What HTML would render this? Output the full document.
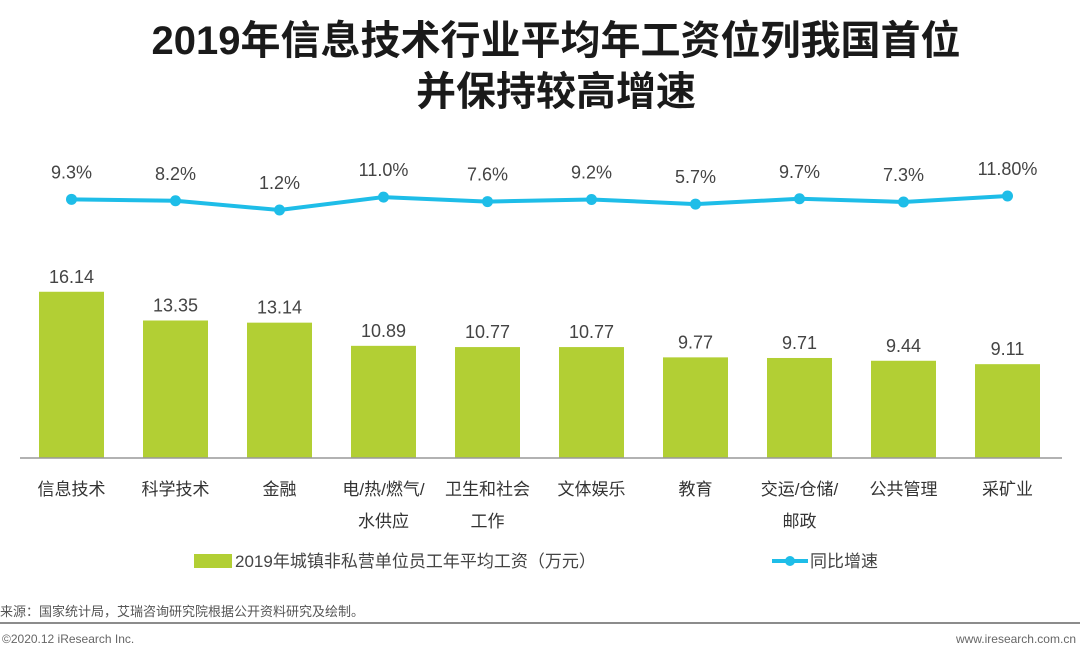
<!DOCTYPE html>
<html><head><meta charset="utf-8"><style>
body{margin:0;background:#fff;}
svg text{font-family:"Liberation Sans","Noto Sans CJK SC",sans-serif;}
</style></head><body>
<svg width="1080" height="658" viewBox="0 0 1080 658">
<text x="556" y="54" text-anchor="middle" font-size="40" font-weight="bold" fill="#1a1a1a">2019年信息技术行业平均年工资位列我国首位</text>
<text x="556" y="105" text-anchor="middle" font-size="40" font-weight="bold" fill="#1a1a1a">并保持较高增速</text>
<g id="bars"></g><g id="line"></g><g id="labels"></g>
<line x1="20" y1="458" x2="1062" y2="458" stroke="#999" stroke-width="1.5"/>
<rect x="194" y="554" width="38" height="14" fill="#b2cf34"/>
<text x="235" y="567" font-size="17" fill="#444">2019年城镇非私营单位员工年平均工资（万元）</text>
<line x1="772" y1="561" x2="808" y2="561" stroke="#1ebde8" stroke-width="4"/>
<circle cx="790" cy="561" r="5" fill="#1ebde8"/>
<text x="810" y="567" font-size="17" fill="#444">同比增速</text>
<text x="0" y="616" font-size="13" fill="#555">来源：国家统计局，艾瑞咨询研究院根据公开资料研究及绘制。</text>
<line x1="0" y1="623" x2="1080" y2="623" stroke="#666" stroke-width="1.5"/>
<text x="2" y="643" font-size="12" fill="#666">©2020.12 iResearch Inc.</text>
<text x="1076" y="643" text-anchor="end" font-size="12" fill="#666">www.iresearch.com.cn</text>
</svg>
<script>
const categories=[["信息技术"],["科学技术"],["金融"],["电/热/燃气/","水供应"],["卫生和社会","工作"],["文体娱乐"],["教育"],["交运/仓储/","邮政"],["公共管理"],["采矿业"]];
const wages=[16.14,13.35,13.14,10.89,10.77,10.77,9.77,9.71,9.44,9.11];
const wageLabels=["16.14","13.35","13.14","10.89","10.77","10.77","9.77","9.71","9.44","9.11"];
const growth=[9.3,8.2,1.2,11.0,7.6,9.2,5.7,9.7,7.3,11.8];
const growthLabels=["9.3%","8.2%","1.2%","11.0%","7.6%","9.2%","5.7%","9.7%","7.3%","11.80%"];
const NS="http://www.w3.org/2000/svg";
const xc=i=>71.5+104*i;
const yBar=v=>458-v*10.3;
const yLine=v=>211.6-v*1.32;
function mk(t,a){const e=document.createElementNS(NS,t);for(const k in a)e.setAttribute(k,a[k]);return e;}
const gb=document.getElementById('bars'),gl=document.getElementById('line'),gt=document.getElementById('labels');
wages.forEach((v,i)=>{
 const r=mk('rect',{x:xc(i)-32.5,y:yBar(v),width:65,height:458-yBar(v),fill:'#b2cf34'});
 
 
 gb.appendChild(r);
 const t=mk('text',{x:xc(i),y:yBar(v)-9,'text-anchor':'middle','font-size':18,fill:'#444'});
 t.textContent=wageLabels[i];
 
 
 gt.appendChild(t);
 categories[i].forEach((s,j)=>{
  const c=mk('text',{x:xc(i),y:495+j*32,'text-anchor':'middle','font-size':17,fill:'#333'});
  c.textContent=s;
  
  
  gt.appendChild(c);
 });
});
const pl=mk('polyline',{points:growth.map((v,i)=>xc(i)+','+yLine(v)).join(' '),fill:'none',stroke:'#1ebde8','stroke-width':4});


gl.appendChild(pl);
growth.forEach((v,i)=>{
 const c=mk('circle',{cx:xc(i),cy:yLine(v),r:5.5,fill:'#1ebde8'});
 
 
 gl.appendChild(c);
 const t=mk('text',{x:xc(i),y:yLine(v)-21,'text-anchor':'middle','font-size':18,fill:'#444'});
 t.textContent=growthLabels[i];
 
 
 gt.appendChild(t);
});
</script>
</body></html>
